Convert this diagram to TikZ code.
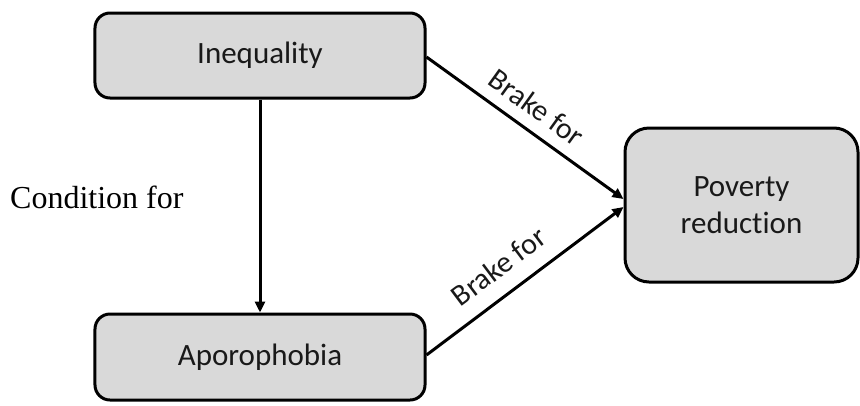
\documentclass[tikz,border=0pt]{standalone}
\usepackage{fontspec}
\setmainfont{Liberation Serif}
\newfontfamily\boxfont[Ligatures=NoCommon]{Carlito}
\usetikzlibrary{arrows.meta}
\begin{document}
\begin{tikzpicture}[x=1bp,y=-1bp,
  block/.style={draw=black, line width=3bp, fill=black!15, rounded corners=15bp,
    inner sep=0pt, align=center, text=black!90,
    font=\boxfont\fontsize{31bp}{37bp}\selectfont},
  link/.style={line width=3bp, -{Triangle[length=11bp,width=10bp]}},
  edgelabel/.style={sloped, inner sep=0pt, text=black!90,
    font=\boxfont\fontsize{30bp}{36bp}\selectfont}]
  \useasboundingbox (0,0) rectangle (860,405);

  \node[block, minimum width=330bp, minimum height=85bp] (ineq) at (260,55.5) {Inequality};
  \node[block, minimum width=330bp, minimum height=86bp] (apor) at (260,357) {Aporophobia};
  \node[block, rounded corners=24bp, minimum width=233bp, minimum height=154bp] (pov) at (741.5,205) {Poverty\\reduction};

  \draw[link] (ineq.south) -- (apor.north);
  \draw[link] ([yshift=-1.5bp]ineq.east) -- ([yshift=6bp]pov.west)
    node[edgelabel, pos=0.49, above=11.5bp] {Brake for};
  \draw[link] ([yshift=2bp]apor.east) -- ([yshift=-2bp]pov.west)
    node[edgelabel, pos=0.45, above=15.5bp] {Brake for};

  \node[anchor=base west, inner sep=0pt, font=\fontsize{32bp}{38bp}\selectfont] (cond) at (10,208) {Condition for};
\end{tikzpicture}
\end{document}
